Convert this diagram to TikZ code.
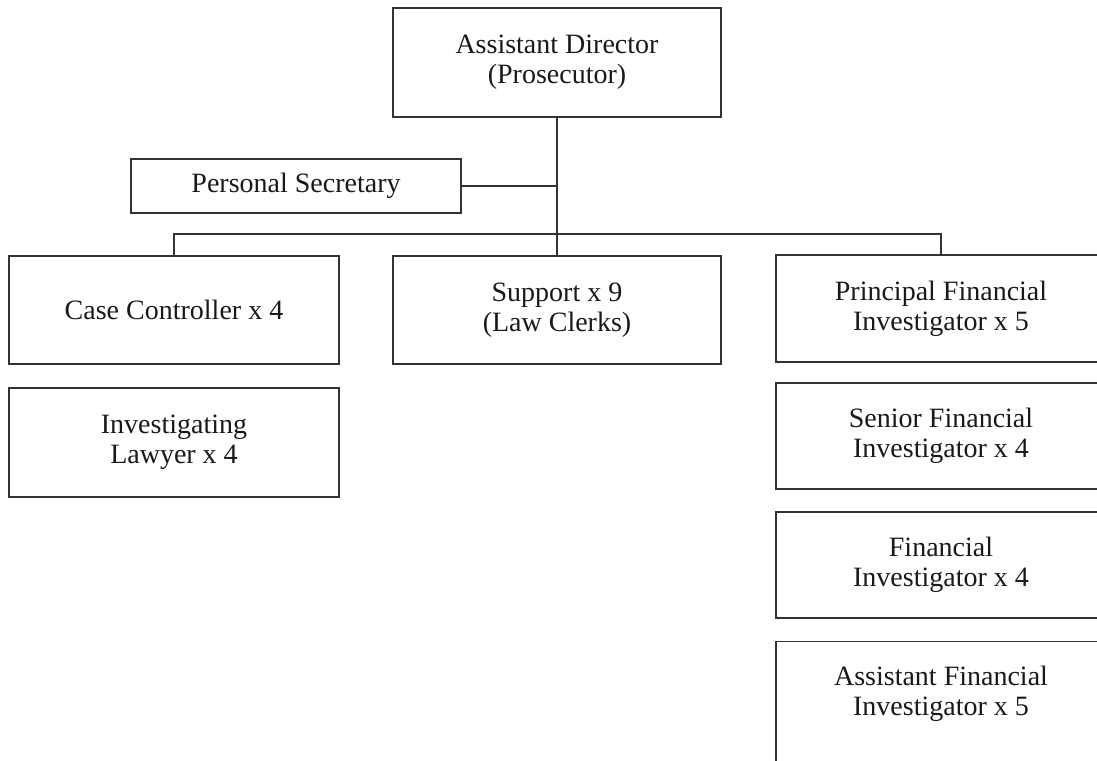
\documentclass[tikz,border=0pt]{standalone}
\usepackage{fontspec}
\setmainfont{Liberation Serif}
\begin{document}
\begin{tikzpicture}[x=1pt,y=-1pt,
  box/.style={draw=black!80, line width=1.3pt, rectangle, inner sep=0pt, align=center,
    font=\fontsize{28}{30}\selectfont, text=black!90},
  txt/.style={inner sep=0pt, align=center, font=\fontsize{28}{30}\selectfont, text=black!90},
  link/.style={draw=black!80, line width=1.3pt}]
\useasboundingbox (0,0) rectangle (1097,760);
\clip (0,0) rectangle (1097,760);
\node[box, minimum width=328pt, minimum height=109pt] (ad) at (557,62.5) {Assistant Director\\(Prosecutor)};
\node[box, minimum width=330pt, minimum height=54pt] (ps) at (296,186) {Personal Secretary};
\node[box, minimum width=330pt, minimum height=108pt] (cc) at (174,310) {Case Controller x 4};
\node[box, minimum width=328pt, minimum height=108pt] (sup) at (557,310) {Support x 9\\(Law Clerks)};
\node[box, minimum width=330pt, minimum height=109pt] (il) at (174,442.5) {Investigating\\Lawyer x 4};
\node[box, minimum width=330pt, minimum height=107pt] (pfi) at (941,308.5) {Principal Financial\\Investigator x 5};
\node[box, minimum width=330pt, minimum height=106pt] (sfi) at (941,436) {Senior Financial\\Investigator x 4};
\node[box, minimum width=330pt, minimum height=106pt] (fi) at (941,565) {Financial\\Investigator x 4};
\node[box, minimum width=330pt, minimum height=140pt, anchor=north] (afi) at (941,641) {};
\node[txt] (afit) at (941,694) {Assistant Financial\\Investigator x 5};
\coordinate (bus) at (ad.south |- 0,234);
\coordinate (psj) at (ad.south |- ps.east);
\draw[link] (ad.south) -- (sup.north);
\draw[link] (ps.east) -- (psj);
\draw[link] (cc.north) -- (cc.north |- bus) -- (pfi.north |- bus) -- (pfi.north);
\end{tikzpicture}
\end{document}
